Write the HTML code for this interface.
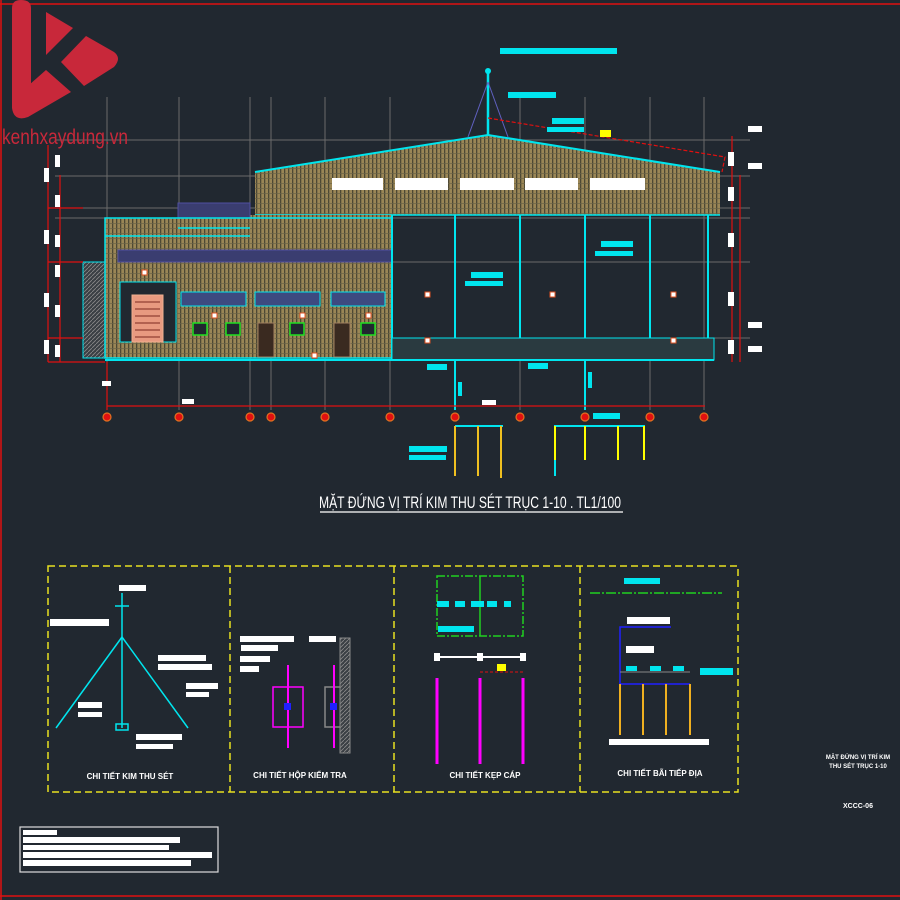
<!DOCTYPE html>
<html><head><meta charset="utf-8"><style>
html,body{margin:0;padding:0;background:#212830;}
svg{display:block}
text{font-family:"Liberation Sans Narrow","Liberation Sans",sans-serif}
</style></head><body>
<svg width="900" height="900" viewBox="0 0 900 900" xmlns="http://www.w3.org/2000/svg">
<defs>
<pattern id="hb" width="4" height="5" patternUnits="userSpaceOnUse">
<rect width="4" height="5" fill="#9a8656"/><rect x="0" width="1.3" height="5" fill="#4d4834"/><rect y="3" width="4" height="0.7" fill="#6b6346"/>
</pattern>
<pattern id="hg" width="4" height="4" patternUnits="userSpaceOnUse">
<rect width="4" height="4" fill="#3a3f44"/><path d="M0,4 L4,0" stroke="#8a8a8a" stroke-width="0.8"/>
</pattern>
</defs>
<rect width="900" height="900" fill="#212830"/>
<line x1="0" y1="4" x2="900" y2="4" stroke="#e01010" stroke-width="1.5"/>
<line x1="1" y1="0" x2="1" y2="900" stroke="#e01010" stroke-width="1.5"/>
<line x1="0" y1="896" x2="900" y2="896" stroke="#e01010" stroke-width="1.5"/>

<g stroke="#6a6a6a" stroke-width="1">
<line x1="107" y1="97" x2="107" y2="410"/><line x1="179" y1="97" x2="179" y2="410"/>
<line x1="250" y1="97" x2="250" y2="410"/><line x1="271" y1="97" x2="271" y2="410"/>
<line x1="325" y1="97" x2="325" y2="410"/><line x1="390" y1="97" x2="390" y2="410"/>
<line x1="520" y1="97" x2="520" y2="410"/><line x1="585" y1="97" x2="585" y2="410"/>
<line x1="650" y1="97" x2="650" y2="410"/><line x1="704" y1="97" x2="704" y2="410"/>
<line x1="55" y1="140" x2="750" y2="140"/><line x1="55" y1="176" x2="750" y2="176"/>
<line x1="55" y1="208" x2="750" y2="208"/><line x1="55" y1="218" x2="750" y2="218"/>
<line x1="55" y1="262" x2="750" y2="262"/><line x1="55" y1="338" x2="750" y2="338"/>
</g>

<polygon points="255,172 488,135 720,172 720,215 255,215" fill="url(#hb)"/>
<polyline points="255,172 488,135 720,172" fill="none" stroke="#00e5ee" stroke-width="2"/>
<line x1="255" y1="215" x2="720" y2="215" stroke="#00e5ee" stroke-width="1.5"/>
<g fill="#fff">
<rect x="332" y="178" width="51" height="12"/><rect x="395" y="178" width="53" height="12"/>
<rect x="460" y="178" width="54" height="12"/><rect x="525" y="178" width="53" height="12"/>
<rect x="590" y="178" width="55" height="12"/>
</g>
<rect x="178" y="215" width="214" height="143" fill="url(#hb)"/>
<rect x="105" y="218" width="75" height="140" fill="url(#hb)"/>
<rect x="83" y="262" width="22" height="96" fill="url(#hg)" stroke="#00e5ee" stroke-width="1"/>
<rect x="120" y="282" width="56" height="60" fill="#212830" stroke="#00e5ee"/>
<rect x="132" y="295" width="31" height="47" fill="#e89a80" stroke="#f0b090"/>
<g stroke="#a05040" stroke-width="1.5">
<line x1="135" y1="302" x2="160" y2="302"/><line x1="135" y1="309" x2="160" y2="309"/><line x1="135" y1="316" x2="160" y2="316"/><line x1="135" y1="323" x2="160" y2="323"/><line x1="135" y1="330" x2="160" y2="330"/><line x1="135" y1="337" x2="160" y2="337"/></g>
<rect x="178" y="203" width="72" height="15" fill="#3a3d70" stroke="#5050a0"/>
<rect x="118" y="250" width="274" height="12" fill="#3a3d70" stroke="#5050a0"/>
<rect x="105" y="218" width="287" height="140" fill="none" stroke="#00e5ee" stroke-width="1.5"/>
<line x1="105" y1="236" x2="250" y2="236" stroke="#00e5ee" stroke-width="1.5"/>
<line x1="178" y1="228" x2="250" y2="228" stroke="#00e5ee" stroke-width="1.5"/>
<g fill="#3d4a80" stroke="#00e5ee">
<rect x="181" y="292" width="65" height="14"/><rect x="255" y="292" width="65" height="14"/><rect x="331" y="292" width="54" height="14"/></g>
<g fill="#212830" stroke="#20e020" stroke-width="1.5">
<rect x="193" y="323" width="14" height="12"/><rect x="226" y="323" width="14" height="12"/><rect x="290" y="323" width="14" height="12"/><rect x="361" y="323" width="14" height="12"/></g>
<g fill="#3a2a20" stroke="#a08060"><rect x="258" y="323" width="16" height="34"/><rect x="334" y="323" width="16" height="34"/></g>
<g stroke="#00e5ee" stroke-width="2">
<line x1="392" y1="215" x2="392" y2="360"/><line x1="455" y1="215" x2="455" y2="410"/>
<line x1="520" y1="215" x2="520" y2="360"/><line x1="585" y1="215" x2="585" y2="410"/>
<line x1="650" y1="215" x2="650" y2="360"/><line x1="708" y1="215" x2="708" y2="360"/>
</g>
<rect x="392" y="338" width="322" height="22" fill="#2a3a40" stroke="#00e5ee"/>
<line x1="105" y1="360" x2="714" y2="360" stroke="#00e5ee" stroke-width="2"/>
<line x1="488" y1="135" x2="488" y2="70" stroke="#00e5ee" stroke-width="2.5"/>
<circle cx="488" cy="71" r="3" fill="#00e5ee"/>
<line x1="488" y1="82" x2="468" y2="137" stroke="#6060c0"/><line x1="488" y1="82" x2="508" y2="137" stroke="#6060c0"/>
<polyline points="488,118 725,157 722,172" fill="none" stroke="#e01010" stroke-width="1.2" stroke-dasharray="4,2"/>
<rect x="600" y="130" width="11" height="7" fill="#ffff00"/>
<g fill="#00e5ee">
<rect x="500" y="48" width="117" height="6"/><rect x="508" y="92" width="48" height="6"/>
<rect x="552" y="118" width="32" height="6"/><rect x="547" y="127" width="37" height="5"/>
<rect x="601" y="241" width="32" height="6"/><rect x="595" y="251" width="38" height="5"/>
<rect x="471" y="272" width="32" height="6"/><rect x="465" y="281" width="38" height="5"/>
<rect x="427" y="364" width="20" height="6"/><rect x="528" y="363" width="20" height="6"/>
<rect x="593" y="413" width="27" height="6"/><rect x="409" y="446" width="38" height="6"/><rect x="409" y="455" width="37" height="5"/>
</g>
<g fill="#fff" stroke="#e05020">
<rect x="142" y="270" width="5" height="5"/><rect x="212" y="313" width="5" height="5"/><rect x="300" y="313" width="5" height="5"/><rect x="366" y="313" width="5" height="5"/>
<rect x="425" y="292" width="5" height="5"/><rect x="550" y="292" width="5" height="5"/><rect x="671" y="292" width="5" height="5"/>
<rect x="425" y="338" width="5" height="5"/><rect x="671" y="338" width="5" height="5"/><rect x="312" y="353" width="5" height="5"/>
</g>
<g stroke="#e01010" stroke-width="1.2">
<line x1="732" y1="136" x2="732" y2="362"/><line x1="740" y1="175" x2="740" y2="362"/>
<line x1="48" y1="145" x2="48" y2="362"/><line x1="60" y1="175" x2="60" y2="362"/>
<line x1="48" y1="362" x2="105" y2="362"/><line x1="48" y1="208" x2="83" y2="208"/><line x1="48" y1="262" x2="83" y2="262"/><line x1="48" y1="338" x2="83" y2="338"/>
<line x1="107" y1="406" x2="705" y2="406"/>
<line x1="107" y1="362" x2="107" y2="410"/>
</g>
<g fill="#fff">
<rect x="748" y="126" width="14" height="6"/><rect x="748" y="163" width="14" height="6"/><rect x="748" y="322" width="14" height="6"/><rect x="748" y="346" width="14" height="6"/>
<rect x="728" y="152" width="6" height="14"/><rect x="728" y="187" width="6" height="14"/><rect x="728" y="233" width="6" height="14"/><rect x="728" y="292" width="6" height="14"/><rect x="728" y="340" width="6" height="14"/>
<rect x="44" y="168" width="5" height="14"/><rect x="44" y="230" width="5" height="14"/><rect x="44" y="293" width="5" height="14"/><rect x="44" y="340" width="5" height="14"/>
<rect x="55" y="155" width="5" height="12"/><rect x="55" y="195" width="5" height="12"/><rect x="55" y="235" width="5" height="12"/><rect x="55" y="265" width="5" height="12"/><rect x="55" y="305" width="5" height="12"/><rect x="55" y="345" width="5" height="12"/>
<rect x="102" y="381" width="9" height="5"/><rect x="182" y="399" width="12" height="5"/><rect x="482" y="400" width="14" height="5"/>
</g>
<g fill="#e01010" stroke="#e07020" stroke-width="1.2">
<circle cx="107" cy="417" r="4"/><circle cx="179" cy="417" r="4"/><circle cx="250" cy="417" r="4"/><circle cx="271" cy="417" r="4"/><circle cx="325" cy="417" r="4"/><circle cx="390" cy="417" r="4"/><circle cx="455" cy="417" r="4"/><circle cx="520" cy="417" r="4"/><circle cx="585" cy="417" r="4"/><circle cx="650" cy="417" r="4"/><circle cx="704" cy="417" r="4"/>
</g>
<polyline points="455,426 503,426" stroke="#00e5ee" stroke-width="2" fill="none"/>
<polyline points="555,476 555,426 645,426" stroke="#00e5ee" stroke-width="2" fill="none"/>
<g stroke="#f0c020" stroke-width="2">
<line x1="455" y1="426" x2="455" y2="476"/><line x1="478" y1="426" x2="478" y2="476"/><line x1="501" y1="426" x2="501" y2="478"/>
</g>
<g stroke="#ffff00" stroke-width="2">
<line x1="555" y1="426" x2="555" y2="460"/><line x1="585" y1="426" x2="585" y2="460"/><line x1="618" y1="426" x2="618" y2="460"/><line x1="644" y1="426" x2="644" y2="460"/>
</g>
<g fill="#00e5ee"><rect x="458" y="382" width="4" height="14"/><rect x="588" y="372" width="4" height="16"/></g>

<text x="470" y="508" text-anchor="middle" fill="#fff" font-size="17" textLength="302" lengthAdjust="spacingAndGlyphs">MẶT ĐỨNG VỊ TRÍ KIM THU SÉT TRỤC 1-10 . TL1/100</text>
<line x1="320" y1="512" x2="623" y2="512" stroke="#ddd" stroke-width="1.5"/>

<g fill="none" stroke="#e8e020" stroke-width="1.5" stroke-dasharray="7,4">
<rect x="48" y="566" width="690" height="226"/>
<line x1="230" y1="566" x2="230" y2="792"/><line x1="394" y1="566" x2="394" y2="792"/><line x1="580" y1="566" x2="580" y2="792"/>
</g>
<g stroke="#00e5ee" stroke-width="1.5" fill="none">
<line x1="122" y1="593" x2="122" y2="728"/><line x1="122" y1="637" x2="56" y2="728"/><line x1="122" y1="637" x2="188" y2="728"/>
<line x1="115" y1="606" x2="129" y2="606"/><rect x="116" y="724" width="12" height="6"/>
</g>
<g fill="#fff"><rect x="119" y="585" width="27" height="6"/><rect x="50" y="619" width="59" height="7"/><rect x="158" y="655" width="48" height="6"/><rect x="158" y="664" width="54" height="6"/>
<rect x="186" y="683" width="32" height="6"/><rect x="186" y="692" width="23" height="5"/><rect x="78" y="702" width="24" height="6"/><rect x="78" y="712" width="24" height="5"/>
<rect x="136" y="734" width="46" height="6"/><rect x="136" y="744" width="37" height="5"/></g>
<text x="130" y="779" text-anchor="middle" fill="#fff" font-size="8" font-weight="bold">CHI TIẾT KIM THU SÉT</text>
<rect x="273" y="687" width="30" height="40" fill="none" stroke="#ff00ff" stroke-width="1.5"/>
<rect x="325" y="687" width="16" height="40" fill="none" stroke="#888" stroke-width="1.5"/>
<rect x="340" y="638" width="10" height="115" fill="url(#hg)" stroke="#888"/>
<line x1="288" y1="665" x2="288" y2="748" stroke="#ff00ff" stroke-width="2"/>
<line x1="334" y1="665" x2="334" y2="748" stroke="#ff00ff" stroke-width="2"/>
<rect x="284" y="703" width="7" height="7" fill="#2020ff"/><rect x="330" y="703" width="7" height="7" fill="#2020ff"/>
<g fill="#fff"><rect x="240" y="636" width="54" height="6"/><rect x="241" y="645" width="37" height="6"/><rect x="240" y="656" width="30" height="6"/><rect x="240" y="666" width="19" height="6"/><rect x="309" y="636" width="27" height="6"/></g>
<text x="300" y="778" text-anchor="middle" fill="#fff" font-size="8" font-weight="bold">CHI TIẾT HỘP KIỂM TRA</text>
<rect x="437" y="576" width="86" height="60" fill="none" stroke="#20d020" stroke-width="1.5" stroke-dasharray="8,2,2,2"/>
<line x1="480" y1="576" x2="480" y2="636" stroke="#20d020" stroke-width="1.5"/>
<g fill="#00e5ee"><rect x="437" y="601" width="12" height="6"/><rect x="455" y="601" width="10" height="6"/><rect x="471" y="601" width="13" height="6"/><rect x="487" y="601" width="10" height="6"/><rect x="504" y="601" width="7" height="6"/><rect x="438" y="626" width="36" height="6"/></g>
<line x1="437" y1="657" x2="523" y2="657" stroke="#fff" stroke-width="2"/>
<g fill="#fff"><rect x="434" y="653" width="6" height="8"/><rect x="477" y="653" width="6" height="8"/><rect x="520" y="653" width="6" height="8"/></g>
<line x1="480" y1="672" x2="523" y2="672" stroke="#e01010" stroke-dasharray="3,2"/>
<rect x="497" y="664" width="9" height="7" fill="#ffff00"/>
<g stroke="#ff00ff" stroke-width="3"><line x1="437" y1="678" x2="437" y2="764"/><line x1="480" y1="678" x2="480" y2="764"/><line x1="523" y1="678" x2="523" y2="764"/></g>
<text x="485" y="778" text-anchor="middle" fill="#fff" font-size="8" font-weight="bold">CHI TIẾT KẸP CÁP</text>
<line x1="590" y1="593" x2="722" y2="593" stroke="#20d020" stroke-width="1.5" stroke-dasharray="10,2,2,2"/>
<rect x="624" y="578" width="36" height="6" fill="#00e5ee"/>
<rect x="627" y="617" width="43" height="7" fill="#fff"/><rect x="626" y="646" width="28" height="7" fill="#fff"/>
<polyline points="620,690 620,627 671,627" fill="none" stroke="#2020ff" stroke-width="1.5"/>
<line x1="620" y1="684" x2="690" y2="684" stroke="#2020ff" stroke-width="1.5"/>
<line x1="620" y1="672" x2="690" y2="672" stroke="#888"/>
<g fill="#00e5ee"><rect x="626" y="666" width="11" height="5"/><rect x="650" y="666" width="11" height="5"/><rect x="673" y="666" width="11" height="5"/><rect x="700" y="668" width="33" height="7"/></g>
<g stroke="#f0b020" stroke-width="2"><line x1="620" y1="684" x2="620" y2="735"/><line x1="643" y1="684" x2="643" y2="735"/><line x1="666" y1="684" x2="666" y2="735"/><line x1="690" y1="684" x2="690" y2="735"/></g>
<rect x="609" y="739" width="100" height="6" fill="#fff"/>
<text x="660" y="776" text-anchor="middle" fill="#fff" font-size="8" font-weight="bold">CHI TIẾT BÃI TIẾP ĐỊA</text>
<text x="858" y="759" text-anchor="middle" fill="#fff" font-size="6" font-weight="bold">MẶT ĐỨNG VỊ TRÍ KIM</text>
<text x="858" y="768" text-anchor="middle" fill="#fff" font-size="6" font-weight="bold">THU SÉT TRỤC 1-10</text>
<text x="858" y="808" text-anchor="middle" fill="#fff" font-size="7" font-weight="bold">XCCC-06</text>
<rect x="20" y="827" width="198" height="45" fill="none" stroke="#ddd" stroke-width="1.2"/>
<g fill="#fff"><rect x="23" y="830" width="34" height="5"/><rect x="23" y="837" width="157" height="6"/><rect x="23" y="845" width="146" height="5"/><rect x="23" y="852" width="189" height="6"/><rect x="23" y="860" width="168" height="6"/></g>
<!-- logo -->
<path d="M12,8 Q12,0 21,0 Q31,0 31,8 L31,92 L12,104 Z" fill="#c8283a"/>
<path d="M46,12 L73,28 L46,55 Z" fill="#c8283a"/>
<path d="M61,62 L86,36 L114,52 Q122,58 114,67 L84,86 Z" fill="#c8283a"/>
<path d="M12,100 L46,70 L71,92 L28,117 Q14,122 12,108 Z" fill="#c8283a"/>
<text x="2" y="144" fill="#c8283a" font-size="21" textLength="126" lengthAdjust="spacingAndGlyphs">kenhxaydung.vn</text>
</svg>
</body></html>
